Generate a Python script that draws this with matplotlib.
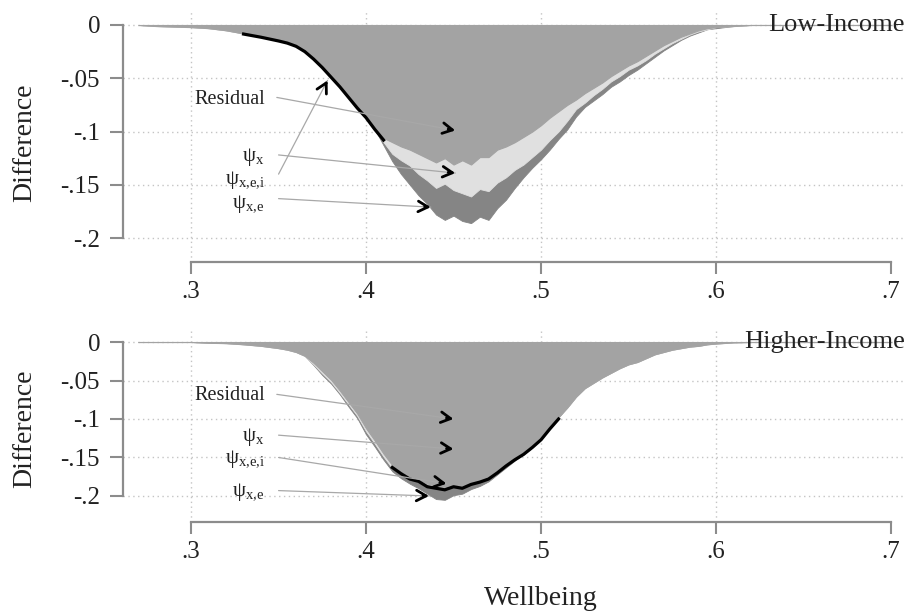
import numpy as np
import matplotlib
matplotlib.use("Agg")
import matplotlib.pyplot as plt
import matplotlib.transforms as mtransforms

plt.rcParams['font.family'] = ['Liberation Serif', 'DejaVu Serif']
plt.rcParams['mathtext.fontset'] = 'custom'
plt.rcParams['mathtext.rm'] = 'Liberation Serif'

nan = np.nan

# ---------------- data ----------------
wellbeing = [0.27, 0.28, 0.29, 0.30, 0.31, 0.32, 0.33, 0.34, 0.35,
             0.355, 0.36, 0.365, 0.37, 0.375, 0.38, 0.385, 0.39, 0.395, 0.40,
             0.405, 0.41, 0.415, 0.42, 0.425, 0.43, 0.435, 0.44, 0.445, 0.45,
             0.455, 0.46, 0.465, 0.47, 0.475, 0.48, 0.485, 0.49, 0.495, 0.50,
             0.505, 0.51, 0.515, 0.52, 0.525, 0.53, 0.535, 0.54, 0.545, 0.55,
             0.555, 0.56, 0.565, 0.57, 0.575, 0.58, 0.585, 0.59, 0.595, 0.60,
             0.61, 0.62, 0.64, 0.67, 0.70]

# Low-Income panel
low_residual = [0, -0.001, -0.0015, -0.002, -0.003, -0.005, -0.008, -0.011, -0.014,
                -0.016, -0.019, -0.024, -0.031, -0.038, -0.048, -0.057, -0.067, -0.077, -0.085,
                -0.096, -0.106, -0.110, -0.114, -0.117, -0.121, -0.125, -0.129, -0.125, -0.131,
                -0.127, -0.131, -0.124, -0.124, -0.117, -0.114, -0.110, -0.105, -0.100, -0.094,
                -0.087, -0.081, -0.075, -0.070, -0.064, -0.059, -0.054, -0.048, -0.043, -0.038,
                -0.034, -0.029, -0.024, -0.019, -0.015, -0.011, -0.008, -0.005, -0.003, -0.002,
                -0.001, 0, 0, 0, 0]
low_psi_x = [0, -0.001, -0.0015, -0.002, -0.003, -0.005, -0.008, -0.011, -0.014,
             -0.016, -0.019, -0.024, -0.031, -0.038, -0.048, -0.057, -0.067, -0.077, -0.085,
             -0.097, -0.110, -0.121, -0.127, -0.132, -0.140, -0.146, -0.153, -0.149, -0.155,
             -0.158, -0.161, -0.154, -0.156, -0.148, -0.143, -0.136, -0.131, -0.124, -0.117,
             -0.108, -0.100, -0.090, -0.079, -0.073, -0.066, -0.060, -0.053, -0.048, -0.042,
             -0.038, -0.033, -0.027, -0.022, -0.017, -0.013, -0.009, -0.006, -0.004, -0.002,
             -0.001, 0, 0, 0, 0]
low_psi_xe = [0, -0.001, -0.0015, -0.002, -0.003, -0.005, -0.008, -0.011, -0.014,
              -0.016, -0.019, -0.024, -0.031, -0.038, -0.048, -0.057, -0.067, -0.077, -0.085,
              -0.098, -0.113, -0.128, -0.140, -0.150, -0.160, -0.168, -0.178, -0.183, -0.179,
              -0.184, -0.186, -0.180, -0.183, -0.172, -0.164, -0.153, -0.143, -0.134, -0.126,
              -0.117, -0.107, -0.098, -0.086, -0.077, -0.071, -0.065, -0.058, -0.053, -0.047,
              -0.042, -0.036, -0.030, -0.024, -0.019, -0.014, -0.010, -0.007, -0.004, -0.003,
              -0.001, 0, 0, 0, 0]
low_psi_xei = [nan, nan, nan, nan, nan, nan, -0.0085, -0.0115, -0.015,
               -0.017, -0.020, -0.025, -0.032, -0.040, -0.049, -0.058, -0.068, -0.078, -0.087,
               -0.098, -0.108, nan, nan, nan, nan, nan, nan, nan, nan,
               nan, nan, nan, nan, nan, nan, nan, nan, nan, nan,
               nan, nan, nan, nan, nan, nan, nan, nan, nan, nan,
               nan, nan, nan, nan, nan, nan, nan, nan, nan, nan,
               nan, nan, nan, nan, nan]

# Higher-Income panel
high_residual = [0, 0, 0, 0, -0.001, -0.0015, -0.003, -0.005, -0.008,
                 -0.010, -0.013, -0.018, -0.027, -0.038, -0.049, -0.063, -0.078, -0.093, -0.112,
                 -0.128, -0.145, -0.160, -0.168, -0.175, -0.178, -0.184, -0.186, -0.188, -0.185,
                 -0.187, -0.182, -0.180, -0.175, -0.167, -0.158, -0.150, -0.143, -0.134, -0.124,
                 -0.110, -0.097, -0.085, -0.071, -0.060, -0.053, -0.046, -0.040, -0.034, -0.029,
                 -0.026, -0.021, -0.016, -0.013, -0.010, -0.008, -0.006, -0.005, -0.003, -0.002,
                 -0.0005, 0, 0, 0, 0]
high_psi_x = [0, 0, 0, 0, -0.001, -0.0015, -0.003, -0.005, -0.008,
              -0.010, -0.013, -0.018, -0.029, -0.041, -0.052, -0.066, -0.081, -0.096, -0.116,
              -0.132, -0.149, -0.164, -0.172, -0.178, -0.180, -0.185, -0.187, -0.188, -0.185,
              -0.187, -0.182, -0.180, -0.175, -0.167, -0.158, -0.150, -0.143, -0.134, -0.124,
              -0.110, -0.097, -0.085, -0.071, -0.060, -0.053, -0.046, -0.040, -0.034, -0.029,
              -0.026, -0.021, -0.016, -0.013, -0.010, -0.008, -0.006, -0.005, -0.003, -0.002,
              -0.0005, 0, 0, 0, 0]
high_psi_xe = [0, 0, 0, 0, -0.001, -0.0015, -0.003, -0.005, -0.008,
               -0.010, -0.013, -0.018, -0.030, -0.043, -0.054, -0.068, -0.084, -0.099, -0.120,
               -0.136, -0.153, -0.168, -0.177, -0.184, -0.190, -0.197, -0.204, -0.205, -0.199,
               -0.197, -0.191, -0.187, -0.181, -0.172, -0.163, -0.154, -0.146, -0.137, -0.126,
               -0.112, -0.098, -0.085, -0.071, -0.060, -0.053, -0.046, -0.040, -0.034, -0.029,
               -0.026, -0.021, -0.016, -0.013, -0.010, -0.008, -0.006, -0.005, -0.003, -0.002,
               -0.0005, 0, 0, 0, 0]
high_psi_xei = [nan, nan, nan, nan, nan, nan, nan, nan, nan,
                nan, nan, nan, nan, nan, nan, nan, nan, nan, nan,
                nan, nan, -0.163, -0.171, -0.178, -0.181, -0.188, -0.190, -0.192, -0.188,
                -0.190, -0.185, -0.182, -0.178, -0.170, -0.161, -0.153, -0.146, -0.137, -0.127,
                -0.113, -0.100, nan, nan, nan, nan, nan, nan, nan, nan,
                nan, nan, nan, nan, nan, nan, nan, nan, nan, nan,
                nan, nan, nan, nan, nan]

panel_titles = ['Low-Income', 'Higher-Income']
x_ticks = [0.3, 0.4, 0.5, 0.6, 0.7]
x_ticklabels = ['.3', '.4', '.5', '.6', '.7']
y_ticks = [0, -0.05, -0.1, -0.15, -0.2]
y_ticklabels = ['0', '-.05', '-.1', '-.15', '-.2']

annot_labels = ['Residual', r'$\mathregular{ψ_{x}}$', r'$\mathregular{ψ_{x{,}e{,}i}}$', r'$\mathregular{ψ_{x{,}e}}$']

# ---------------- layout ----------------
W_PX, H_PX = 909, 613
fig = plt.figure(figsize=(W_PX / 100, H_PX / 100), dpi=100)
left = 123 / W_PX
width = (905 - 123) / W_PX
ax1 = fig.add_axes([left, 1 - 262 / H_PX, width, 250 / H_PX])
ax2 = fig.add_axes([left, 1 - 522 / H_PX, width, 194 / H_PX])

C_RES = '#a3a3a3'
C_X = '#e0e0e0'
C_XE = '#858585'
AX_COL = '#8c8c8c'
GRID_COL = '#c4c4c4'
TXT_COL = '#222222'


def style_axes(ax, ylim, title):
    ax.set_xlim(0.2611, 0.708)
    ax.set_ylim(*ylim)
    for s in ['top', 'right']:
        ax.spines[s].set_visible(False)
    for s in ['left', 'bottom']:
        ax.spines[s].set_color(AX_COL)
        ax.spines[s].set_linewidth(1.6)
    ax.spines['left'].set_bounds(min(y_ticks), max(y_ticks))
    ax.spines['bottom'].set_bounds(min(x_ticks), max(x_ticks))
    ax.set_xticks(x_ticks)
    ax.set_xticklabels(x_ticklabels)
    ax.set_yticks(y_ticks)
    ax.set_yticklabels(y_ticklabels)
    ax.tick_params(axis='y', length=9.5, width=1.5, color=AX_COL, pad=7,
                   labelsize=18, labelcolor=TXT_COL, direction='out')
    ax.tick_params(axis='x', length=8.5, width=1.5, color=AX_COL, pad=5,
                   labelsize=18, labelcolor=TXT_COL, direction='out')
    for yv in y_ticks:
        ax.axhline(yv, color=GRID_COL, lw=1.0, ls=(0, (1, 2.5)), zorder=0.5)
    for xv in x_ticks[:-1]:
        ax.axvline(xv, color=GRID_COL, lw=1.0, ls=(0, (1, 2.5)), zorder=0.5)
    trans = mtransforms.blended_transform_factory(ax.transAxes, ax.transData)
    ax.text(1.0, 0.0, title, transform=trans, ha='right', va='center',
            fontsize=19, color=TXT_COL, zorder=10)


def draw_panel(ax, res, px, pxe, pxei):
    x = np.array(wellbeing)
    ax.fill_between(x, 0, pxe, color=C_XE, lw=0.6, zorder=2)
    ax.fill_between(x, 0, px, color=C_X, lw=0.6, zorder=3)
    ax.fill_between(x, 0, res, color=C_RES, lw=0.8, zorder=4)
    ax.plot(x, pxei, color='black', lw=2.3, zorder=5, solid_joinstyle='round')


def arrow(ax, x0, y0, x1, y1):
    ax.annotate('', xy=(x1, y1), xytext=(x0, y0),
                arrowprops=dict(arrowstyle='-', color='#a8a8a8', lw=0.9,
                                shrinkA=0, shrinkB=0), zorder=6)
    f = 0.04
    ax.annotate('', xy=(x1, y1), xytext=(x1 - (x1 - x0) * f, y1 - (y1 - y0) * f),
                arrowprops=dict(arrowstyle='->,head_length=0.7,head_width=0.38',
                                color='black', lw=2.0, shrinkA=0, shrinkB=0), zorder=7)


style_axes(ax1, (-0.2225, 0.0122), panel_titles[0])
style_axes(ax2, (-0.2338, 0.0182), panel_titles[1])

draw_panel(ax1, low_residual, low_psi_x, low_psi_xe, low_psi_xei)
draw_panel(ax2, high_residual, high_psi_x, high_psi_xe, high_psi_xei)

# annotations: Low-Income
ax1.text(0.302, -0.070, annot_labels[0], ha='left', va='center', fontsize=14.5, color=TXT_COL, zorder=8)
ax1.text(0.342, -0.124, annot_labels[1], ha='right', va='center', fontsize=15, color=TXT_COL, zorder=8)
ax1.text(0.342, -0.146, annot_labels[2], ha='right', va='center', fontsize=15, color=TXT_COL, zorder=8)
ax1.text(0.342, -0.168, annot_labels[3], ha='right', va='center', fontsize=15, color=TXT_COL, zorder=8)
arrow(ax1, 0.349, -0.068, 0.451, -0.099)
arrow(ax1, 0.350, -0.122, 0.451, -0.139)
arrow(ax1, 0.350, -0.140, 0.378, -0.052)
arrow(ax1, 0.350, -0.163, 0.437, -0.171)

# annotations: Higher-Income
ax2.text(0.302, -0.070, annot_labels[0], ha='left', va='center', fontsize=14.5, color=TXT_COL, zorder=8)
ax2.text(0.342, -0.123, annot_labels[1], ha='right', va='center', fontsize=15, color=TXT_COL, zorder=8)
ax2.text(0.342, -0.153, annot_labels[2], ha='right', va='center', fontsize=15, color=TXT_COL, zorder=8)
ax2.text(0.342, -0.195, annot_labels[3], ha='right', va='center', fontsize=15, color=TXT_COL, zorder=8)
arrow(ax2, 0.349, -0.068, 0.450, -0.100)
arrow(ax2, 0.350, -0.121, 0.450, -0.139)
arrow(ax2, 0.350, -0.150, 0.446, -0.184)
arrow(ax2, 0.350, -0.193, 0.436, -0.200)

# axis titles
for ax, ycoord in [(ax1, (0.0122 + 0.10) / 0.2347), (ax2, (0.0182 + 0.103) / 0.252)]:
    ax.set_ylabel('Difference', fontsize=20, color=TXT_COL)
    ax.yaxis.label.set_va('center')
    ax.yaxis.set_label_coords(-0.126, ycoord)

ax2.set_xlabel('Wellbeing', fontsize=20, color=TXT_COL)
ax2.xaxis.set_label_coords((0.5 - 0.2611) / (0.708 - 0.2611), -0.33)

fig.savefig('out.png', dpi=100, facecolor='white')
